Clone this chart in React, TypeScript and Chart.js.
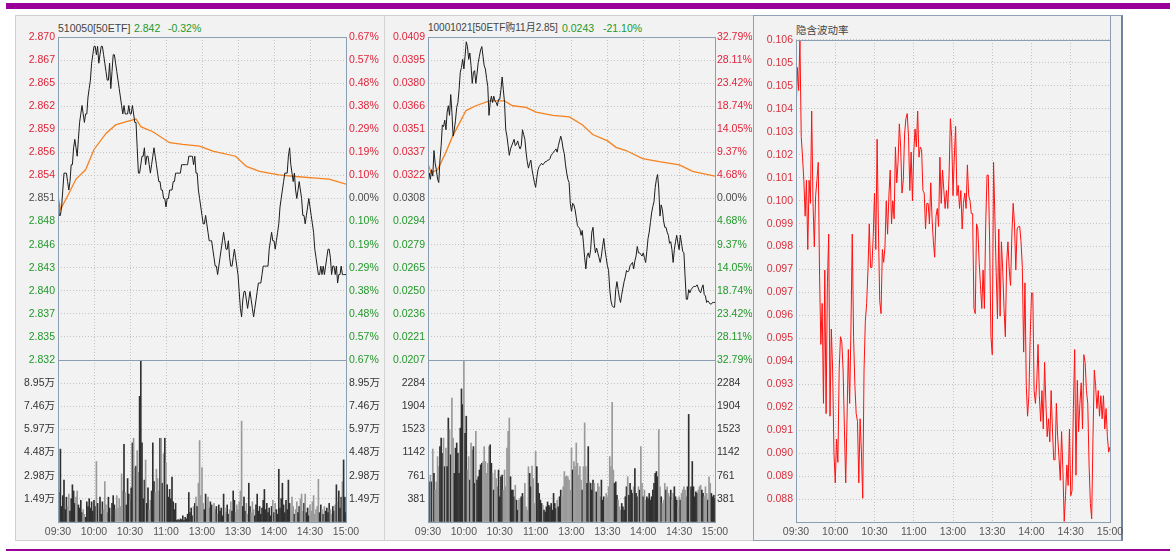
import React, { useEffect, useRef } from "react";
import { Chart, registerables } from "chart.js";

Chart.register(...registerables);

const FONT = "'Liberation Sans', 'Noto Sans CJK SC', sans-serif";
const RED = "#e2243a";
const GREEN = "#22982a";
const NEUTRAL = "#4a4a4a";
const GRID = "#c4c4c4";
const FRAME = "#8a9db1";
const PANEL_BG = "#f2f2f2";
const FONT_SIZE = 10.5;

// ---- axis labels ----
const timeLabels = ["09:30", "10:00", "10:30", "11:00", "13:00", "13:30", "14:00", "14:30", "15:00"];
const timeTickMinutes = [0, 30, 60, 90, 120, 150, 180, 210, 240];

// ---- 510050 [50ETF] ----
const etfHeader = ["510050[50ETF]", "2.842", "-0.32%"];
const etfPrevClose = 2.851;
const etfRangePct = 0.67;
const etfPrice = [
  2.852, 2.849, 2.849, 2.850, 2.852, 2.854, 2.854, 2.854, 2.853, 2.852,
  2.853, 2.855, 2.855, 2.857, 2.858, 2.857, 2.856, 2.858, 2.860, 2.861,
  2.862, 2.861, 2.860, 2.861, 2.861, 2.863, 2.864, 2.865, 2.867, 2.868,
  2.869, 2.869, 2.868, 2.869, 2.867, 2.868, 2.869, 2.869, 2.868, 2.867,
  2.866, 2.865, 2.865, 2.867, 2.864, 2.866, 2.868, 2.868, 2.867, 2.866,
  2.865, 2.864, 2.863, 2.862, 2.861, 2.862, 2.861, 2.861, 2.861, 2.862,
  2.861, 2.861, 2.862, 2.861, 2.860, 2.860, 2.857, 2.854, 2.854, 2.855,
  2.856, 2.856, 2.857, 2.855, 2.856, 2.856, 2.855, 2.854, 2.855, 2.856,
  2.857, 2.856, 2.855, 2.854, 2.853, 2.853, 2.852, 2.852, 2.851, 2.851,
  2.850, 2.851, 2.851, 2.852, 2.852, 2.852, 2.853, 2.853, 2.854, 2.854,
  2.854, 2.854, 2.854, 2.855, 2.855, 2.855, 2.855, 2.855, 2.855, 2.856,
  2.856, 2.856, 2.856, 2.855, 2.856, 2.854, 2.854, 2.852, 2.851, 2.850,
  2.849, 2.848, 2.848, 2.849, 2.848, 2.847, 2.846, 2.846, 2.846, 2.845,
  2.844, 2.843, 2.843, 2.842, 2.843, 2.844, 2.845, 2.846, 2.847, 2.846,
  2.845, 2.845, 2.846, 2.844, 2.843, 2.843, 2.844, 2.845, 2.844, 2.843,
  2.842, 2.840, 2.838, 2.837, 2.839, 2.840, 2.840, 2.839, 2.838, 2.839,
  2.840, 2.839, 2.838, 2.837, 2.838, 2.839, 2.840, 2.841, 2.841, 2.841,
  2.842, 2.843, 2.843, 2.843, 2.843, 2.843, 2.845, 2.846, 2.847, 2.846,
  2.846, 2.845, 2.846, 2.847, 2.848, 2.850, 2.851, 2.852, 2.853, 2.854,
  2.854, 2.854, 2.856, 2.857, 2.855, 2.854, 2.853, 2.854, 2.852, 2.851,
  2.852, 2.853, 2.852, 2.851, 2.849, 2.849, 2.848, 2.849, 2.850, 2.851,
  2.850, 2.849, 2.848, 2.847, 2.845, 2.844, 2.843, 2.842, 2.842, 2.843,
  2.842, 2.843, 2.842, 2.843, 2.844, 2.845, 2.845, 2.844, 2.842, 2.843,
  2.843, 2.842, 2.843, 2.841, 2.842, 2.842, 2.843, 2.842, 2.842, 2.842,
  2.842,
];
const etfAvgMinutes = [0, 2, 8, 15, 23, 30, 40, 48, 57, 65, 69, 79, 93, 104, 118, 129, 148, 157, 168, 184, 198, 215, 226, 240];
const etfAvgPrice = [
  2.8513, 2.8497, 2.8513, 2.8533, 2.8544, 2.8568, 2.8587, 2.8597, 2.8601, 2.8604, 2.8595, 2.8589,
  2.8576, 2.8574, 2.8572, 2.8566, 2.8560, 2.8548, 2.8542, 2.8538, 2.8536, 2.8534, 2.8533, 2.8527,
];
// volume in 万 (10k shares)
const etfVolume = [
  4.5, 1.9, 4.7, 1.0, 1.7, 2.7, 0.8, 1.6, 1.0, 1.8,
  0.7, 1.5, 2.4, 2.0, 1.2, 1.6, 2.0, 1.1, 0.9, 1.4,
  0.6, 0.8, 0.5, 0.3, 1.3, 1.0, 1.5, 0.9, 1.3, 0.7,
  1.4, 1.0, 3.9, 1.2, 0.9, 1.6, 0.5, 1.3, 0.8, 2.6,
  1.1, 0.6, 1.6, 0.9, 0.4, 1.2, 1.7, 1.1, 0.8, 1.7,
  0.9, 1.5, 1.0, 3.1, 2.0, 5.0, 1.9, 1.1, 2.8, 1.8,
  1.4, 2.2, 5.1, 5.4, 3.5, 3.6, 4.6, 3.2, 8.1, 10.44,
  5.1, 1.5, 2.7, 4.0, 1.2, 2.2, 0.8, 1.4, 2.0, 5.1,
  2.6, 1.9, 3.4, 2.8, 2.0, 5.4, 5.4, 2.5, 4.4, 5.4,
  3.8, 2.4, 1.6, 2.1, 1.5, 2.9, 1.3, 0.8, 1.2, 0.1,
  0.15, 0.1, 0.2, 0.15, 0.4, 0.1, 0.3, 0.2, 0.5, 1.9,
  0.6, 0.9, 0.4, 1.0, 1.2, 1.6, 1.0, 2.5, 5.25, 1.7,
  3.5, 1.2, 0.8, 1.8, 1.3, 1.6, 0.9, 1.3, 1.1, 0.6,
  1.2, 0.8, 1.0, 0.5, 1.1, 0.7, 0.9, 0.4, 1.8, 0.9,
  0.6, 1.1, 0.5, 0.8, 1.3, 0.7, 2.0, 1.4, 0.6, 1.1,
  0.8, 1.3, 2.0, 6.5, 1.0, 1.6, 0.7, 1.2, 0.5, 2.5,
  1.0, 0.6, 1.3, 0.8, 0.4, 1.1, 1.8, 0.7, 1.0, 0.5,
  0.9, 1.4, 2.1, 0.8, 1.2, 0.6, 0.9, 0.4, 1.0, 1.4,
  0.6, 1.2, 0.8, 0.5, 3.4, 0.9, 1.5, 2.5, 1.1, 0.6,
  1.4, 0.8, 2.7, 1.2, 0.7, 1.6, 1.0, 0.5, 0.8, 1.3,
  0.6, 1.0, 1.5, 1.8, 0.7, 1.2, 1.8, 0.6, 0.9, 0.4,
  1.1, 0.7, 1.3, 1.7, 0.5, 0.8, 1.0, 2.75, 0.6, 1.1,
  0.8, 0.5, 1.0, 0.7, 0.9, 0.6, 1.2, 0.8, 0.5, 1.0,
  0.7, 1.1, 2.4, 1.3, 2.0, 0.9, 1.6, 2.6, 4.0, 1.6,
  0.6,
];
const etfVolumeMax = 10.442;

// ---- 10001021 [50ETF购11月2.85] ----
const optHeader = ["10001021[50ETF购11月2.85]", "0.0243", "-21.10%"];
const optPrevClose = 0.0308;
const optRangePct = 32.79;
const optPrice = [
  0.0315, 0.0324, 0.0320, 0.0326, 0.0322, 0.0338, 0.0330, 0.0326, 0.0320, 0.0318,
  0.0332, 0.0341, 0.0354, 0.0353, 0.0357, 0.0351, 0.0362, 0.0366, 0.0360, 0.0373,
  0.0362, 0.0347, 0.0351, 0.0357, 0.0365, 0.0368, 0.0376, 0.0387, 0.0390, 0.0395,
  0.0389, 0.0397, 0.0406, 0.0403, 0.0395, 0.0399, 0.0391, 0.0380, 0.0387, 0.0388,
  0.0380, 0.0386, 0.0393, 0.0397, 0.0401, 0.0403, 0.0397, 0.0391, 0.0389, 0.0383,
  0.0378, 0.0360, 0.0368, 0.0372, 0.0368, 0.0372, 0.0369, 0.0368, 0.0366, 0.0370,
  0.0370, 0.0376, 0.0384, 0.0376, 0.0368, 0.0351, 0.0347, 0.0341, 0.0335, 0.0339,
  0.0341, 0.0343, 0.0345, 0.0341, 0.0342, 0.0344, 0.0341, 0.0339, 0.0341, 0.0351,
  0.0348, 0.0345, 0.0337, 0.0331, 0.0327, 0.0330, 0.0332, 0.0326, 0.0322, 0.0318,
  0.0315, 0.0321, 0.0326, 0.0328, 0.0329, 0.0330, 0.0329, 0.0330, 0.0331, 0.0331,
  0.0332, 0.0332, 0.0333, 0.0335, 0.0336, 0.0337, 0.0338, 0.0339, 0.0337, 0.0341,
  0.0344, 0.0347, 0.0344, 0.0339, 0.0336, 0.0329, 0.0324, 0.0320, 0.0318, 0.0305,
  0.0300, 0.0305, 0.0304, 0.0301, 0.0296, 0.0291, 0.0290, 0.0289, 0.0285, 0.0288,
  0.0280, 0.0271, 0.0264, 0.0272, 0.0274, 0.0271, 0.0276, 0.0287, 0.0290, 0.0280,
  0.0274, 0.0277, 0.0274, 0.0271, 0.0268, 0.0272, 0.0278, 0.0283, 0.0276, 0.0271,
  0.0266, 0.0263, 0.0251, 0.0244, 0.0241, 0.0240, 0.0240, 0.0251, 0.0256, 0.0251,
  0.0246, 0.0243, 0.0248, 0.0252, 0.0256, 0.0259, 0.0263, 0.0262, 0.0263, 0.0266,
  0.0267, 0.0268, 0.0264, 0.0269, 0.0272, 0.0278, 0.0274, 0.0274, 0.0273, 0.0272,
  0.0274, 0.0271, 0.0268, 0.0275, 0.0283, 0.0287, 0.0293, 0.0299, 0.0303, 0.0306,
  0.0315, 0.0320, 0.0323, 0.0314, 0.0297, 0.0304, 0.0301, 0.0294, 0.0290, 0.0290,
  0.0287, 0.0285, 0.0280, 0.0281, 0.0276, 0.0268, 0.0276, 0.0281, 0.0285, 0.0280,
  0.0276, 0.0285, 0.0280, 0.0275, 0.0274, 0.0259, 0.0245, 0.0245, 0.0251, 0.0249,
  0.0251, 0.0252, 0.0253, 0.0253, 0.0253, 0.0254, 0.0252, 0.0250, 0.0249, 0.0252,
  0.0254, 0.0248, 0.0247, 0.0243, 0.0244, 0.0243, 0.0242, 0.0242, 0.0243, 0.0243,
  0.0243,
];
const optAvgMinutes = [0, 2.5, 8, 15, 20.6, 26.2, 31.8, 40, 51.3, 63.8, 70.8, 82, 90.3, 104.3, 118.2, 129.3, 137.7, 150.2, 157.2, 165.6, 179.5, 193.4, 210.2, 221.3, 240];
const optAvgPrice = [
  0.0330, 0.0324, 0.0326, 0.0337, 0.0347, 0.0355, 0.0363, 0.0366, 0.0369, 0.0369, 0.0366, 0.0365,
  0.0362, 0.0360, 0.0359, 0.0354, 0.0348, 0.0344, 0.0340, 0.0338, 0.0333, 0.0331, 0.0329, 0.0325, 0.0322,
];
const optVolume = [
  1380, 660, 770, 660, 1200, 800, 525, 660, 1075, 910,
  1240, 1380, 1130, 1380, 910, 1215, 910, 1710, 1520, 1105,
  2040, 1380, 800, 1215, 1300, 1130, 800, 1545, 2190, 1930,
  2665, 1460, 1740, 855, 1075, 690, 1300, 1185, 1240, 635,
  1490, 690, 745, 855, 940, 965, 995, 1240, 995, 800,
  965, 1240, 1270, 965, 800, 525, 855, 715, 580, 855,
  415, 745, 770, 525, 855, 580, 1215, 1490, 1710, 745,
  525, 525, 415, 605, 360, 195, 360, 385, 415, 470,
  415, 635, 250, 195, 910, 800, 580, 920, 715, 305,
  1160, 910, 635, 470, 360, 305, 275, 195, 165, 250,
  330, 275, 250, 305, 195, 470, 305, 220, 360, 250,
  415, 525, 415, 580, 830, 745, 755, 745, 690, 525,
  1215, 855, 995, 910, 1300, 965, 770, 910, 690, 525,
  910, 1630, 910, 635, 1240, 660, 635, 525, 690, 635,
  495, 495, 635, 580, 415, 690, 360, 415, 385, 470,
  415, 580, 1075, 910, 1970, 855, 635, 660, 440, 360,
  250, 195, 305, 250, 195, 415, 580, 745, 440, 635,
  525, 470, 580, 880, 470, 415, 580, 525, 1240, 635,
  415, 525, 360, 415, 385, 470, 360, 415, 525, 635,
  800, 830, 745, 1520, 580, 415, 305, 360, 635, 525,
  580, 470, 415, 525, 360, 470, 580, 415, 360, 250,
  415, 360, 470, 525, 580, 525, 415, 580, 1770, 525,
  580, 995, 580, 415, 495, 470, 525, 580, 605, 525,
  470, 415, 580, 470, 360, 745, 635, 470, 415, 440,
  385,
];
const optVolumeMax = 2665;

// ---- 隐含波动率 ----
const ivTitle = "隐含波动率";
const ivTop = 0.10637;
const ivStep = 0.000895;
const ivSteps = 21;
const ivValues = [
  0.1033, 0.1053, 0.1044, 0.1064, 0.1026, 0.1018, 0.1009, 0.0995, 0.1009, 0.0982,
  0.1009, 0.1000, 0.1036, 0.1000, 0.0983, 0.1003, 0.1009, 0.1016, 0.0972, 0.0945,
  0.0961, 0.0922, 0.0974, 0.0918, 0.0969, 0.0988, 0.0917, 0.0951, 0.0935, 0.0903,
  0.0891, 0.0908, 0.0899, 0.0935, 0.0948, 0.0946, 0.0935, 0.0912, 0.0891, 0.0916,
  0.0943, 0.0922, 0.0951, 0.0988, 0.0948, 0.0929, 0.0918, 0.0915, 0.0891, 0.0916,
  0.0903, 0.0885, 0.0935, 0.0954, 0.0961, 0.0974, 0.0992, 0.0975, 0.0975, 0.0987,
  0.1004, 0.0982, 0.1025, 0.0990, 0.0962, 0.0957, 0.0982, 0.0977, 0.0983, 0.1001,
  0.0988, 0.1003, 0.1013, 0.0992, 0.1001, 0.0994, 0.1022, 0.1008, 0.1016, 0.1031,
  0.1022, 0.1004, 0.1009, 0.1027, 0.1033, 0.1035, 0.1026, 0.1005, 0.1020, 0.1001,
  0.1020, 0.1029, 0.1022, 0.1036, 0.1018, 0.1022, 0.1021, 0.1005, 0.1004, 0.0990,
  0.1000, 0.1000, 0.0992, 0.1008, 0.0994, 0.0985, 0.0979, 0.0995, 0.0998, 0.0991,
  0.1018, 0.1000, 0.1013, 0.1005, 0.0998, 0.1005, 0.0998, 0.1011, 0.1033, 0.1026,
  0.1003, 0.1018, 0.1030, 0.1003, 0.1007, 0.0998, 0.1005, 0.0990, 0.1000, 0.1004,
  0.0998, 0.1015, 0.1003, 0.1001, 0.0996, 0.0996, 0.0959, 0.0957, 0.0992, 0.0990,
  0.0977, 0.0968, 0.0959, 0.0974, 0.0959, 0.0992, 0.1011, 0.1011, 0.0985, 0.0948,
  0.0941, 0.1016, 0.0995, 0.0973, 0.0955, 0.0990, 0.0956, 0.0985, 0.0974, 0.0959,
  0.0948, 0.0977, 0.0985, 0.0974, 0.0968, 0.0988, 0.1000, 0.0992, 0.0974, 0.0990,
  0.0991, 0.0991, 0.0985, 0.0975, 0.0942, 0.0969, 0.0929, 0.0917, 0.0925, 0.0948,
  0.0965, 0.0965, 0.0927, 0.0922, 0.0930, 0.0945, 0.0925, 0.0915, 0.0927, 0.0912,
  0.0938, 0.0922, 0.0909, 0.0916, 0.0907, 0.0927, 0.0912, 0.0900, 0.0900, 0.0922,
  0.0909, 0.0901, 0.0892, 0.0911, 0.0896, 0.0876, 0.0886, 0.0898, 0.0890, 0.0912,
  0.0886, 0.0888, 0.0920, 0.0943, 0.0894, 0.0931, 0.0911, 0.0922, 0.0930, 0.0912,
  0.0941, 0.0938, 0.0927, 0.0922, 0.0898, 0.0883, 0.0877, 0.0909, 0.0935, 0.0929,
  0.0920, 0.0927, 0.0917, 0.0925, 0.0916, 0.0925, 0.0912, 0.0920, 0.0909, 0.0903,
  0.0905,
];

// ---------------------------------------------------------------

const framePlugin = {
  id: "frame",
  afterDatasetsDraw(chart: any) {
    const { ctx, chartArea } = chart;
    const l = Math.round(chartArea.left) + 0.5;
    const t = Math.round(chartArea.top) + 0.5;
    const r = Math.round(chartArea.right) + 0.5;
    const b = Math.round(chartArea.bottom) + 0.5;
    ctx.save();
    ctx.strokeStyle = FRAME;
    ctx.lineWidth = 1;
    ctx.setLineDash([]);
    ctx.strokeRect(l, t, r - l, b - t);
    ctx.restore();
  },
};

const tickFont = { family: FONT, size: FONT_SIZE };

function timeAxis(showLabels: boolean, height: number) {
  return {
    type: "linear",
    min: 0,
    max: 240,
    offset: false,
    grid: { color: GRID, lineWidth: 1, drawTicks: false, offset: false },
    border: { display: false, dash: [1, 2] },
    ticks: {
      display: showLabels,
      autoSkip: false,
      maxRotation: 0,
      padding: 4,
      color: "#555555",
      font: tickFont,
      callback: (_v: any, i: number) => timeLabels[i] ?? "",
    },
    afterBuildTicks: (s: any) => {
      s.ticks = timeTickMinutes.map((v) => ({ value: v }));
    },
    afterFit: (s: any) => {
      s.height = height;
    },
  };
}

function buildPriceChart(
  canvas: HTMLCanvasElement,
  c: { prev: number; rangePct: number; price: number[]; avgMin: number[]; avgVal: number[]; digits: number; leftW: number; rightW: number; rightPad: number }
) {
  const max = c.prev * (1 + c.rangePct / 100);
  const min = c.prev * (1 - c.rangePct / 100);
  const tickVals = Array.from({ length: 15 }, (_, k) => c.prev * (1 + ((k - 7) * c.rangePct) / 700));
  const colorFor = (v: number) =>
    v > c.prev * (1 + 1e-9) ? RED : v < c.prev * (1 - 1e-9) ? GREEN : NEUTRAL;
  const yTicks = (s: any) => {
    s.ticks = tickVals.map((v) => ({ value: v }));
  };
  return new Chart(canvas, {
    type: "line",
    data: {
      datasets: [
        {
          data: c.price.map((y, i) => ({ x: i, y })),
          borderColor: "#1c1c1c",
          borderWidth: 1,
          pointRadius: 0,
          yAxisID: "y",
          order: 1,
        },
        {
          data: c.avgMin.map((x, i) => ({ x, y: c.avgVal[i] })),
          borderColor: "#f5821f",
          borderWidth: 1.3,
          pointRadius: 0,
          yAxisID: "y",
          order: 2,
        },
      ],
    },
    options: {
      animation: false,
      responsive: false,
      events: [],
      layout: { padding: { top: 21, left: 0, right: 0, bottom: 0 } },
      plugins: { legend: { display: false }, tooltip: { enabled: false } },
      scales: {
        x: timeAxis(false, 12) as any,
        y: {
          position: "left",
          min,
          max,
          afterBuildTicks: yTicks,
          afterFit: (s: any) => {
            s.width = c.leftW;
          },
          grid: { color: GRID, drawTicks: false },
          border: { display: false, dash: [1, 2] },
          ticks: {
            autoSkip: false,
            padding: 3,
            font: tickFont,
            color: (ctx: any) => colorFor(ctx.tick.value),
            callback: (v: any) => Number(v).toFixed(c.digits),
          },
        },
        y2: {
          position: "right",
          min,
          max,
          afterBuildTicks: yTicks,
          afterFit: (s: any) => {
            s.width = c.rightW;
          },
          grid: { display: false, drawTicks: false },
          border: { display: false },
          ticks: {
            autoSkip: false,
            padding: c.rightPad,
            font: tickFont,
            color: (ctx: any) => colorFor(ctx.tick.value),
            callback: (v: any) => (Math.abs(Number(v) / c.prev - 1) * 100).toFixed(2) + "%",
          },
        },
      } as any,
    },
    plugins: [framePlugin],
  } as any);
}

function buildVolumeChart(
  canvas: HTMLCanvasElement,
  c: { vol: number[]; price: number[]; max: number; fmt: (v: number) => string; leftW: number; rightW: number; rightPad: number }
) {
  const step = c.max / 7;
  const tickVals = Array.from({ length: 8 }, (_, k) => k * step);
  const colors = c.vol.map((_, i) => (i === 0 || c.price[i] >= c.price[i - 1] ? "#303030" : "#9a9a9a"));
  const yTicks = (s: any) => {
    s.ticks = tickVals.map((v) => ({ value: v }));
  };
  const label = (v: any, i: number) => (i === 0 || i === 7 ? "" : c.fmt(Number(v)));
  return new Chart(canvas, {
    type: "bar",
    data: {
      datasets: [
        {
          data: c.vol.map((y, i) => ({ x: i, y })),
          backgroundColor: colors,
          borderWidth: 0,
          barThickness: 1,
        },
      ],
    },
    options: {
      animation: false,
      responsive: false,
      events: [],
      layout: { padding: { top: 10, left: 0, right: 0, bottom: 0 } },
      plugins: { legend: { display: false }, tooltip: { enabled: false } },
      scales: {
        x: timeAxis(true, 19) as any,
        y: {
          position: "left",
          min: 0,
          max: c.max,
          afterBuildTicks: yTicks,
          afterFit: (s: any) => {
            s.width = c.leftW;
          },
          grid: { color: GRID, drawTicks: false },
          border: { display: false, dash: [1, 2] },
          ticks: { autoSkip: false, padding: 3, font: tickFont, color: "#333333", callback: label },
        },
        y2: {
          position: "right",
          min: 0,
          max: c.max,
          afterBuildTicks: yTicks,
          afterFit: (s: any) => {
            s.width = c.rightW;
          },
          grid: { display: false, drawTicks: false },
          border: { display: false },
          ticks: { autoSkip: false, padding: c.rightPad, font: tickFont, color: "#333333", callback: label },
        },
      } as any,
    },
    plugins: [framePlugin],
  } as any);
}

function buildIvChart(canvas: HTMLCanvasElement) {
  const min = ivTop - ivSteps * ivStep;
  const tickVals = Array.from({ length: ivSteps + 1 }, (_, k) => min + k * ivStep);
  return new Chart(canvas, {
    type: "line",
    data: {
      datasets: [
        {
          data: ivValues.map((y, i) => ({ x: i, y })),
          borderColor: "#ff1010",
          borderWidth: 1,
          pointRadius: 0,
        },
      ],
    },
    options: {
      animation: false,
      responsive: false,
      events: [],
      layout: { padding: { top: 24, left: 0, right: 20, bottom: 0 } },
      plugins: { legend: { display: false }, tooltip: { enabled: false } },
      scales: {
        x: timeAxis(true, 19) as any,
        y: {
          position: "left",
          min,
          max: ivTop,
          afterBuildTicks: (s: any) => {
            s.ticks = tickVals.map((v) => ({ value: v }));
          },
          afterFit: (s: any) => {
            s.width = 42;
          },
          grid: { color: GRID, drawTicks: false },
          border: { display: false, dash: [1, 2] },
          ticks: {
            autoSkip: false,
            padding: 3,
            font: tickFont,
            color: "#d8303e",
            callback: (v: any, i: number) => (i === 0 ? "" : Number(v).toFixed(3)),
          },
        },
      } as any,
    },
    plugins: [framePlugin],
  } as any);
}

const abs = (l: number, t: number, w: number, h: number, extra: any = {}) => ({
  position: "absolute" as const,
  left: l,
  top: t,
  width: w,
  height: h,
  ...extra,
});

const textStyle = (l: number, t: number, color: string, size = FONT_SIZE) => ({
  position: "absolute" as const,
  left: l,
  top: t,
  color,
  fontSize: size,
  lineHeight: "14px",
  whiteSpace: "nowrap" as const,
  fontFamily: FONT,
});

export default function App() {
  const c1 = useRef<HTMLCanvasElement>(null);
  const c2 = useRef<HTMLCanvasElement>(null);
  const c3 = useRef<HTMLCanvasElement>(null);
  const c4 = useRef<HTMLCanvasElement>(null);
  const c5 = useRef<HTMLCanvasElement>(null);

  useEffect(() => {
    const charts = [
      buildPriceChart(c1.current!, {
        prev: etfPrevClose,
        rangePct: etfRangePct,
        price: etfPrice,
        avgMin: etfAvgMinutes,
        avgVal: etfAvgPrice,
        digits: 3,
        leftW: 42,
        rightW: 38,
        rightPad: 3,
      }),
      buildVolumeChart(c2.current!, {
        vol: etfVolume,
        price: etfPrice,
        max: etfVolumeMax,
        fmt: (v) => v.toFixed(2) + "万",
        leftW: 42,
        rightW: 38,
        rightPad: 3,
      }),
      buildPriceChart(c3.current!, {
        prev: optPrevClose,
        rangePct: optRangePct,
        price: optPrice,
        avgMin: optAvgMinutes,
        avgVal: optAvgPrice,
        digits: 4,
        leftW: 43,
        rightW: 37,
        rightPad: 2,
      }),
      buildVolumeChart(c4.current!, {
        vol: optVolume,
        price: optPrice,
        max: optVolumeMax,
        fmt: (v) => String(Math.round(v)),
        leftW: 43,
        rightW: 37,
        rightPad: 2,
      }),
      buildIvChart(c5.current!),
    ];
    return () => charts.forEach((ch) => ch.destroy());
  }, []);

  return (
    <div style={{ position: "fixed", left: 0, top: 0, width: 1170, height: 551, background: "#ffffff", overflow: "hidden" }}>
      {/* top purple band & bottom line */}
      <div style={abs(6, 3, 1164, 6, { background: "#990099" })} />
      <div style={abs(6, 549, 1164, 2, { background: "#990099" })} />

      {/* panels */}
      <div style={abs(15, 15, 1108, 526, { background: PANEL_BG, border: "1px solid #cfcfcf", boxSizing: "border-box" })} />
      <div style={abs(384, 15, 1, 526, { background: "#d2d2d2" })} />
      <div style={abs(753, 15, 370, 526, { borderTop: "1px solid #8ea1b5", borderLeft: "1px solid #8ea1b5", borderBottom: "1px solid #8ea1b5", borderRight: "2px solid #6e849c", boxSizing: "border-box" })} />
      <div style={abs(1110, 15, 1, 25, { background: FRAME })} />

      {/* headers */}
      <span style={textStyle(58, 21, "#444444")}>{etfHeader[0]}</span>
      <span style={textStyle(134, 21, GREEN)}>{etfHeader[1]}</span>
      <span style={textStyle(168, 21, GREEN)}>{etfHeader[2]}</span>
      <span style={textStyle(428, 21, "#444444", 10)}>{optHeader[0]}</span>
      <span style={textStyle(562, 21, GREEN)}>{optHeader[1]}</span>
      <span style={textStyle(603, 21, GREEN)}>{optHeader[2]}</span>
      <span style={textStyle(796, 23, "#444444", 10.5)}>{ivTitle}</span>

      <canvas ref={c1} width={368} height={356} style={abs(16, 16, 368, 356)} />
      <canvas ref={c2} width={368} height={191} style={abs(16, 350, 368, 191)} />
      <canvas ref={c3} width={367} height={356} style={abs(385, 16, 367, 356)} />
      <canvas ref={c4} width={367} height={191} style={abs(385, 350, 367, 191)} />
      <canvas ref={c5} width={376} height={525} style={abs(754, 16, 376, 525)} />
    </div>
  );
}
